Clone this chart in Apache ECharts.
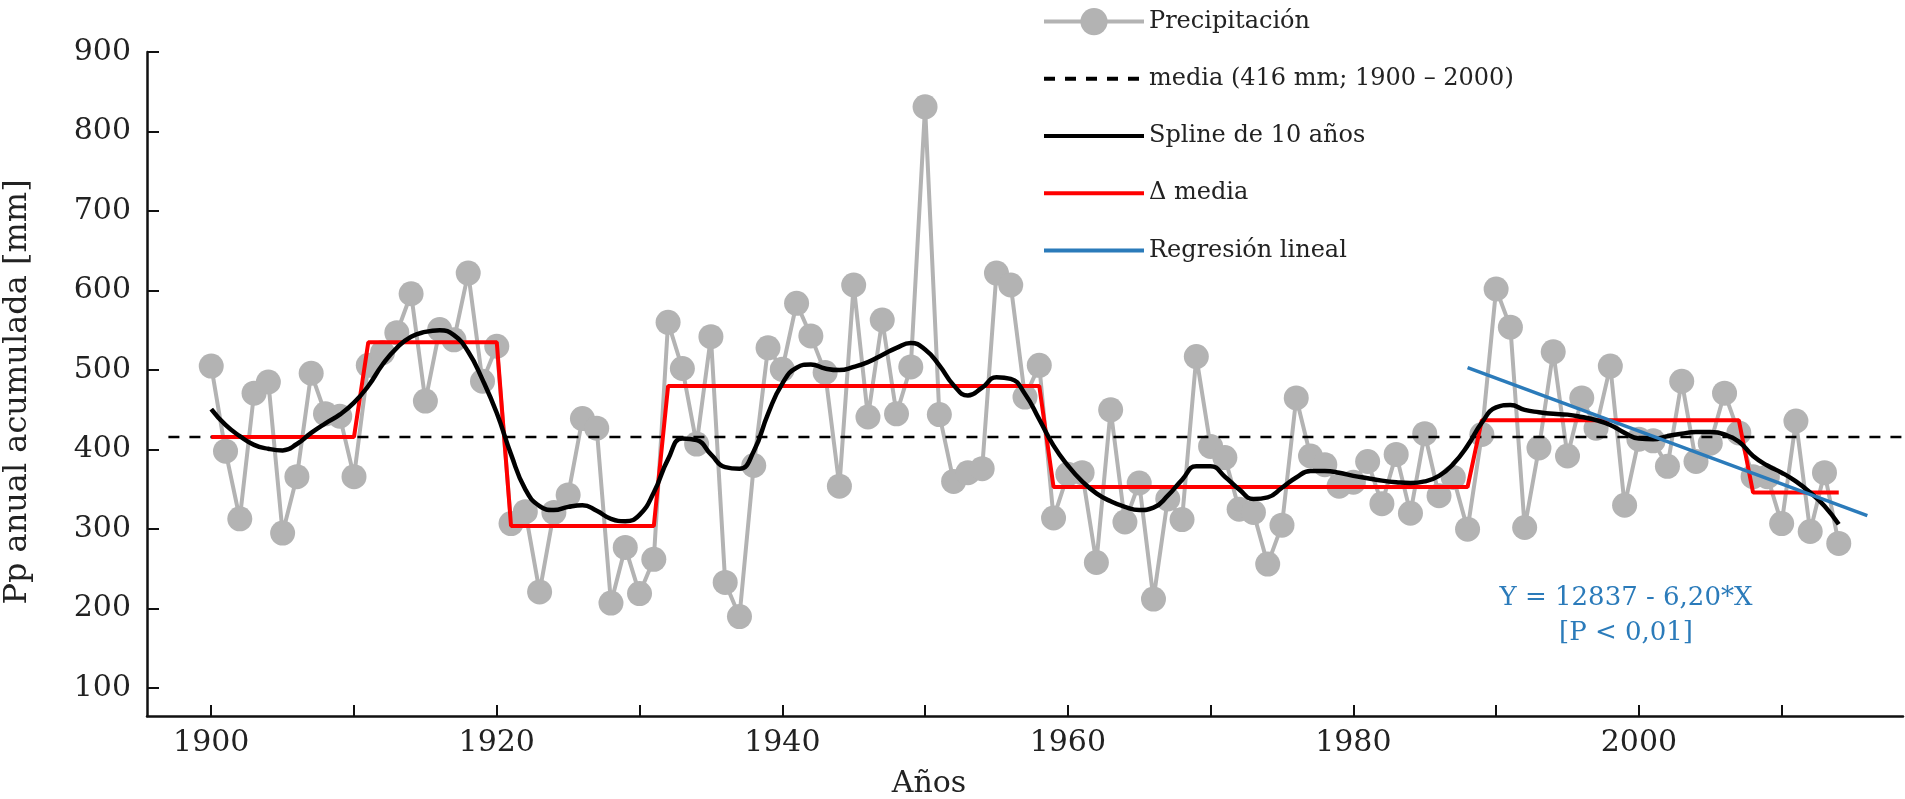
<!DOCTYPE html>
<html>
<head>
<meta charset="utf-8">
<script src="https://cdn.jsdelivr.net/npm/echarts@6.0.0/dist/echarts.min.js"></script>
<style>
html,body{margin:0;padding:0;background:#fff;}
#chart{width:1905px;height:799px;}
</style>
</head>
<body>
<div id="chart"></div>
<script>
// precipitacion anual acumulada, 1900 - 2014
var firstYear = 1900;
var precip = [
  505, 398, 313, 471, 485, 295, 366, 496, 445, 442,
  366, 506, 522, 547, 596, 461, 551, 538, 622, 486,
  530, 307, 322, 221, 321, 343, 439, 427, 207, 277,
  219, 262, 560, 502, 407, 542, 233, 190, 380, 528,
  501, 584, 543, 497, 354, 607, 441, 563, 445, 504,
  831, 444, 360, 371, 376, 622, 607, 466, 506, 314,
  369, 371, 258, 450, 309, 358, 212, 338, 312, 517,
  404, 390, 325, 321, 256, 305, 465, 392, 381, 354,
  359, 385, 332, 394, 320, 420, 342, 365, 300, 419,
  602, 554, 302, 402, 523, 392, 465, 427, 505, 330,
  413, 411, 379, 486, 385, 408, 471, 421, 366, 366,
  307, 436, 297, 371, 282
];
// spline de 10 años
var spline10 = [
  451, 431, 417, 406, 401, 399, 407, 421, 433, 444,
  459, 480, 507, 528, 542, 548, 550, 544, 523, 488,
  446, 394, 350, 329, 324, 328, 330, 323, 313, 310,
  318, 346, 388, 414, 412, 394, 378, 376, 398, 445,
  483, 503, 507, 502, 500, 504, 510, 519, 528, 534,
  526, 506, 481, 468, 478, 491, 489, 470, 438, 405,
  380, 360, 345, 335, 328, 324, 327, 342, 362, 379,
  379, 366, 350, 338, 340, 352, 365, 373, 373, 371,
  367, 364, 361, 359, 358, 360, 367, 382, 405, 434,
  453, 456, 450, 447, 445, 444, 441, 437, 431, 421,
  414, 413, 417, 420, 422, 422, 419, 410, 392, 380,
  371, 360, 346, 329, 306
];
// delta media (saltos)
var deltaYears = [1900, 1910, 1911, 1920, 1921, 1931, 1932, 1958, 1959, 1988, 1989, 2007, 2008, 2014];
var deltaVals  = [416, 416, 535, 535, 304, 304, 480, 480, 353, 353, 437, 437, 346, 346];
// media 1900-2000
var meanVal = 416;
var meanYears = [1897, 2018.5];
// regresion lineal
var regYears = [1988, 2016];
var regVals  = [503, 317];

var xLabelYears = [1900, 1920, 1940, 1960, 1980, 2000];
var xTickYears  = [1900, 1910, 1920, 1930, 1940, 1950, 1960, 1970, 1980, 1990, 2000, 2010];
var yTicks      = [100, 200, 300, 400, 500, 600, 700, 800, 900];

var FONT = 'DejaVu Serif';

function pairs(xs, ys) {
    var out = [];
    for (var i = 0; i < ys.length; i++) {
        out.push([xs[i], ys[i]]);
    }
    return out;
}

var years = [];
for (var i = 0; i < precip.length; i++) {
    years.push(firstYear + i);
}

// entrada de leyenda solo con linea (sin simbolo)
function lineItem(name) {
    return { name: name, itemStyle: { opacity: 0 }, lineStyle: { width: 4 } };
}

var myChart = echarts.init(document.getElementById('chart'));
var option = {
    animation: false,
    backgroundColor: '#fff',
    grid: {
        left: 147,
        right: 2,
        top: 52,
        bottom: 83
    },
    legend: {
        orient: 'vertical',
        left: 1042,
        top: 8,
        padding: 0,
        itemWidth: 100,
        itemHeight: 34,
        itemGap: 30,
        textStyle: { fontFamily: FONT, fontSize: 24, color: '#222' },
        data: [
            { name: 'Precipitación', lineStyle: { width: 4 } },
            lineItem('media (416 mm; 1900 – 2000)'),
            lineItem('Spline de 10 años'),
            lineItem('Δ media'),
            lineItem('Regresión lineal')
        ]
    },
    xAxis: {
        type: 'value',
        min: 1895.5,
        max: 2018.5,
        splitLine: { show: false },
        axisLine: { show: true, onZero: false, lineStyle: { color: '#111', width: 2.5 } },
        axisTick: { show: true, inside: true, length: 11, customValues: xTickYears, lineStyle: { color: '#111', width: 2 } },
        axisLabel: {
            customValues: xLabelYears, margin: 12, fontFamily: FONT, fontSize: 30, color: '#222',
            formatter: function (v) { return String(v); }
        }
    },
    yAxis: {
        type: 'value',
        min: 65,
        max: 900,
        splitLine: { show: false },
        axisLine: { show: true, onZero: false, lineStyle: { color: '#111', width: 2.5 } },
        axisTick: { show: true, inside: true, length: 12, customValues: yTicks, lineStyle: { color: '#111', width: 2 } },
        axisLabel: { customValues: yTicks, margin: 16, fontFamily: FONT, fontSize: 30, color: '#222' }
    },
    graphic: [
        {
            type: 'text', x: 18, y: 392, rotation: Math.PI / 2,
            style: { text: 'Pp anual acumulada [mm]', font: '32px "DejaVu Serif"', fill: '#222', textAlign: 'center', textVerticalAlign: 'middle' }
        },
        {
            type: 'text', x: 929, y: 784,
            style: { text: 'Años', font: '30px "DejaVu Serif"', fill: '#222', textAlign: 'center', textVerticalAlign: 'middle' }
        },
        {
            type: 'text', x: 1626, y: 598,
            style: { text: 'Y = 12837 - 6,20*X', font: '26px "DejaVu Serif"', fill: '#2b7bba', textAlign: 'center', textVerticalAlign: 'middle' }
        },
        {
            type: 'text', x: 1626, y: 633,
            style: { text: '[P < 0,01]', font: '26px "DejaVu Serif"', fill: '#2b7bba', textAlign: 'center', textVerticalAlign: 'middle' }
        }
    ],
    series: [
        {
            name: 'Precipitación',
            type: 'line',
            data: pairs(years, precip),
            symbol: 'circle',
            symbolSize: 25,
            lineStyle: { color: '#b3b3b3', width: 4 },
            itemStyle: { color: '#b3b3b3' },
            z: 2
        },
        {
            name: 'media (416 mm; 1900 – 2000)',
            type: 'line',
            data: pairs(meanYears, [meanVal, meanVal]),
            symbol: 'none',
            lineStyle: { color: '#000', width: 2.5, type: [11, 10] },
            itemStyle: { color: '#000' },
            z: 3
        },
        {
            name: 'Δ media',
            type: 'line',
            data: pairs(deltaYears, deltaVals),
            symbol: 'none',
            lineStyle: { color: '#ff0000', width: 4 },
            itemStyle: { color: '#ff0000' },
            z: 4
        },
        {
            name: 'Spline de 10 años',
            type: 'line',
            data: pairs(years, spline10),
            symbol: 'none',
            smooth: 0.5,
            lineStyle: { color: '#000', width: 4.5 },
            itemStyle: { color: '#000' },
            z: 5
        },
        {
            name: 'Regresión lineal',
            type: 'line',
            data: pairs(regYears, regVals),
            symbol: 'none',
            lineStyle: { color: '#2b7bba', width: 3.5 },
            itemStyle: { color: '#2b7bba' },
            z: 6
        }
    ]
};
myChart.setOption(option);
</script>
</body>
</html>
